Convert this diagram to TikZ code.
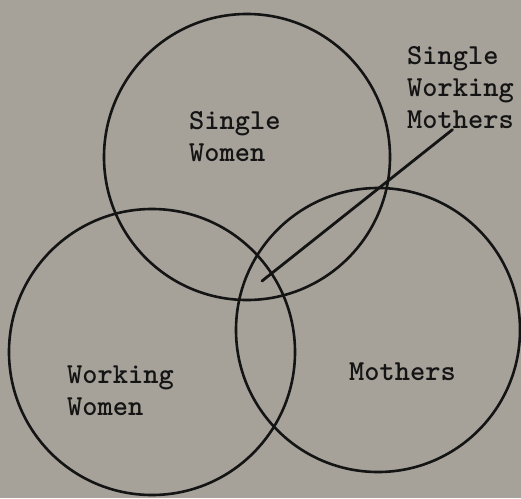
\documentclass[tikz,border=0pt]{standalone}
\usepackage{fontspec}
\usepackage{tikz}
\usetikzlibrary{positioning,calc}
\definecolor{vdPaper}{RGB}{166,162,154}
\definecolor{vdInk}{RGB}{20,20,20}

\begin{document}
\begin{tikzpicture}[
  x=1pt, y=-1pt,
  font=\ttfamily\bfseries\fontsize{29}{32}\selectfont,
  set/.style={
    circle, draw=vdInk, line width=2.6pt, inner sep=0pt,
    minimum size=#1
  },
  tag/.style={
    anchor=north west, inner sep=0pt, align=left, text=vdInk
  },
  pointer/.style={draw=vdInk, line width=2.8pt, line cap=round}
]
% paper
\fill[vdPaper] (0,0) rectangle (521,498);
\useasboundingbox (0,0) rectangle (521,498);

% the three sets
\node[set=286pt] (single)  at (247,157) {};
\node[set=286pt] (working) at (152,352) {};
\node[set=284pt] (mothers) at (378,330) {};

% set names
\node[tag] (tSingle)  at (189,111) {Single\\Women};
\node[tag] (tWorking) at (67,366)  {Working\\Women};
\node[tag] (tMothers) at (349,363) {Mothers};

% the overlap of all three
\node[tag] (tSWM) at (407,46) {Single\\Working\\Mothers};
\coordinate (core) at (262,281);
\draw[pointer] ([xshift=-8pt,yshift=-1pt]tSWM.south) -- (core);

\end{tikzpicture}
\end{document}
